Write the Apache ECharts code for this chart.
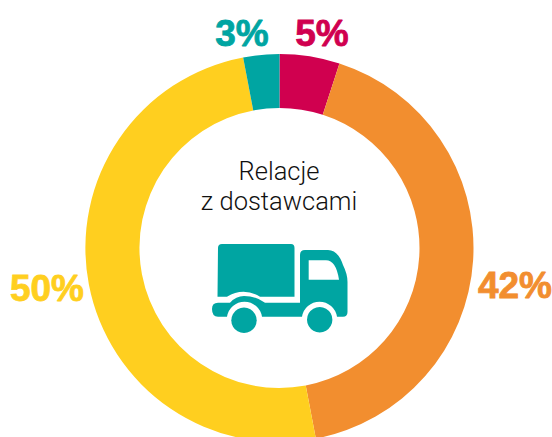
<!DOCTYPE html>
<html>
<head>
<meta charset="utf-8">
<style>
  html, body { margin: 0; padding: 0; background: #fff; }
  #chart { width: 552px; height: 437px; }
</style>
<script src="https://cdn.jsdelivr.net/npm/echarts@6/dist/echarts.min.js"></script>
</head>
<body>
<div id="chart"></div>
<script>
// clockwise from 12 o'clock
const categories = ['czerwony', 'pomarańczowy', 'żółty', 'turkusowy'];
const values = [5, 42, 50, 3];
const colors = ['#D0004F', '#F28E2F', '#FFCF1F', '#00A5A2'];
const centerLines = ['Relacje', 'z dostawcami'];

// label centres, same order as values
const labelSpots = [[322, 33], [515, 285], [47, 288], [242, 33]];

const TEAL = '#00A5A2';
const truckBody = 'M218 248 Q218 244 222 244 L291 244 Q294.5 244 294.5 248 L294.5 296.7 L260 296.7 Q252 291.7 243.5 291.7 Q235 291.7 227 296.7 L217.5 296.7 Z';
const truckCab = 'M212 309 Q212 302.7 218 302.7 L230 302.7 Q236 296 244 296 Q256 296 265 302.7 L300 302.7 L300 255 Q300 250 305 250 L328 250 Q338 250 343 265 Q347.5 274 347.5 282 L347.5 312 Q347.5 316.7 343 316.7 L337 316.7 A17.7 17.7 0 0 0 302 316.7 L262 316.7 A17.7 17.7 0 0 0 227 316.7 L218 316.7 Q212 316.7 212 309 Z';
const truckWindow = 'M308.7 260.3 L326 260.3 Q336 260.3 339 279.7 L308.7 279.7 Z';

// the graphic component has no plain path type, so register the icon parts
echarts.graphic.registerShape('truckBody', echarts.graphic.extendPath(truckBody, {}));
echarts.graphic.registerShape('truckCab', echarts.graphic.extendPath(truckCab, {}));
echarts.graphic.registerShape('truckWindow', echarts.graphic.extendPath(truckWindow, {}));

const chart = echarts.init(document.getElementById('chart'), null, { renderer: 'svg' });
chart.setOption({
  animation: false,
  backgroundColor: '#fff',
  textStyle: { fontFamily: 'Liberation Sans' },
  series: [{
    type: 'pie',
    center: [279.5, 248],
    radius: [140, 194],
    startAngle: 90,
    clockwise: true,
    silent: true,
    data: categories.map((name, i) => ({
      name,
      value: values[i],
      itemStyle: { color: colors[i] },
      label: { color: colors[i], textBorderColor: colors[i] }
    })),
    label: {
      show: true,
      formatter: p => p.value + '%',
      fontFamily: 'Liberation Sans',
      fontWeight: 'bold',
      fontSize: 37,
      textBorderWidth: 0.8,
      overflow: 'none'
    },
    labelLine: { show: false },
    labelLayout: p => ({
      x: labelSpots[p.dataIndex][0],
      y: labelSpots[p.dataIndex][1],
      align: 'center',
      verticalAlign: 'middle'
    })
  }],
  graphic: [
    { type: 'text', x: 279, y: 171, style: { text: centerLines[0], fill: '#111', font: '300 25.5px Roboto', align: 'center', verticalAlign: 'middle' } },
    { type: 'text', x: 279, y: 201, style: { text: centerLines[1], fill: '#111', font: '300 25.5px Roboto', align: 'center', verticalAlign: 'middle' } },
    { type: 'truckBody', style: { fill: TEAL } },
    { type: 'truckCab', style: { fill: TEAL } },
    { type: 'truckWindow', style: { fill: '#fff' } },
    { type: 'circle', shape: { cx: 244, cy: 320.3, r: 12.7 }, style: { fill: TEAL } },
    { type: 'circle', shape: { cx: 319.7, cy: 319.7, r: 12.7 }, style: { fill: TEAL } }
  ]
});
</script>
</body>
</html>
